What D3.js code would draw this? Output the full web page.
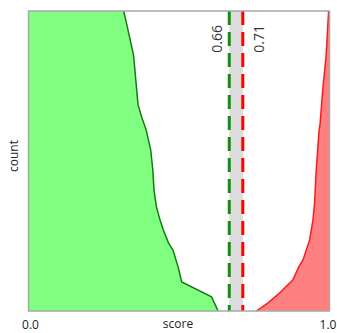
<!DOCTYPE html>
<html><head><meta charset="utf-8">
<script src="https://cdn.jsdelivr.net/npm/d3@7"></script>
<style>body{margin:0;background:#fff;} svg{display:block;font-family:"Open Sans",sans-serif;}</style>
</head><body>
<script>
// count levels (0 bottom .. 100 top) and the score of each class curve at that level
const greenCounts = [100, 95.3, 85.3, 68.7, 64.7, 60.3, 53.7, 47, 40.3, 34.7, 30.3, 27, 22.7, 20.3, 14.7, 9.7, 4.7, 0];
const greenScores = [0.316, 0.327, 0.349, 0.364, 0.376, 0.391, 0.406, 0.413, 0.417, 0.425, 0.437, 0.448, 0.465, 0.480, 0.497, 0.509, 0.608, 0.630];
const redCounts = [100, 85.3, 74.3, 62.7, 59.7, 47, 35.3, 30.3, 23.7, 17, 14.7, 10.3, 6, 2.7, 0];
const redScores = [0.997, 0.989, 0.978, 0.969, 0.965, 0.956, 0.950, 0.945, 0.934, 0.912, 0.898, 0.878, 0.834, 0.796, 0.757];
const thresholdValues = [0.667, 0.712];
const thresholdLabels = ["0.66", "0.71"];
const xTickValues = [0, 1];

const W = 337, H = 333;
const svg = d3.select("body").append("svg").attr("width", W).attr("height", H);
const x = d3.scaleLinear().domain([0, 1]).range([28.5, 329.5]);
const y = d3.scaleLinear().domain([0, 100]).range([311, 11]);

const green = greenCounts.map((c, i) => ({c, s: greenScores[i]}));
const red = redCounts.map((c, i) => ({c, s: redScores[i]}));

// threshold band
svg.append("rect")
  .attr("x", x(thresholdValues[0])).attr("y", y(100))
  .attr("width", x(thresholdValues[1]) - x(thresholdValues[0]))
  .attr("height", y(0) - y(100)).attr("fill", "#dcdcdc");

const greenArea = d3.area().y(d => y(d.c)).x0(x(0)).x1(d => x(d.s));
const redArea = d3.area().y(d => y(d.c)).x0(d => x(d.s)).x1(x(1));
const lineG = d3.line().y(d => y(d.c)).x(d => x(d.s));

svg.append("path").attr("d", greenArea(green)).attr("fill", "#80ff80");
svg.append("path").attr("d", lineG(green)).attr("fill", "none").attr("stroke", "#157a15").attr("stroke-width", 1.5);
svg.append("path").attr("d", redArea(red)).attr("fill", "#ff8080");
svg.append("path").attr("d", lineG(red)).attr("fill", "none").attr("stroke", "#ff1a1a").attr("stroke-width", 1.5);

const tColors = ["#109010", "#ff0000"];
thresholdValues.forEach((v, i) => {
  svg.append("line")
    .attr("x1", x(v)).attr("x2", x(v)).attr("y1", y(100)).attr("y2", y(0))
    .attr("stroke", tColors[i]).attr("stroke-width", 3)
    .attr("stroke-dasharray", "14,7");
});
// threshold labels
svg.append("text")
  .attr("transform", `translate(${x(thresholdValues[0]) - 7.5},25) rotate(-90)`)
  .attr("text-anchor", "end").attr("font-size", 14).attr("fill", "#333")
  .text(thresholdLabels[0]);
svg.append("text")
  .attr("transform", `translate(${x(thresholdValues[1]) + 21},25) rotate(-90)`)
  .attr("text-anchor", "end").attr("font-size", 14).attr("fill", "#333")
  .text(thresholdLabels[1]);

// frame
svg.append("rect").attr("x", x(0)).attr("y", y(100))
  .attr("width", x(1) - x(0)).attr("height", y(0) - y(100))
  .attr("fill", "none").attr("stroke", "#a8a8a8").attr("stroke-width", 1.5);

// x axis
const ax = svg.append("g").attr("transform", `translate(0,${y(0)})`)
  .call(d3.axisBottom(x).tickValues(xTickValues).tickFormat(d3.format(".1f")).tickSize(0).tickPadding(9));
ax.select(".domain").remove();
ax.selectAll("text").attr("font-size", 12).attr("fill", "#222").attr("font-family", "Open Sans, sans-serif");
ax.selectAll(".tick text").attr("dx", (d, i) => i === 0 ? 1.5 : -2);

svg.append("text").attr("x", 178).attr("y", 328).attr("text-anchor", "middle")
  .attr("font-size", 12).attr("fill", "#222").text("score");
svg.append("text").attr("transform", "translate(18,156) rotate(-90)")
  .attr("text-anchor", "middle").attr("font-size", 12).attr("fill", "#222").text("count");
</script>
</body></html>
